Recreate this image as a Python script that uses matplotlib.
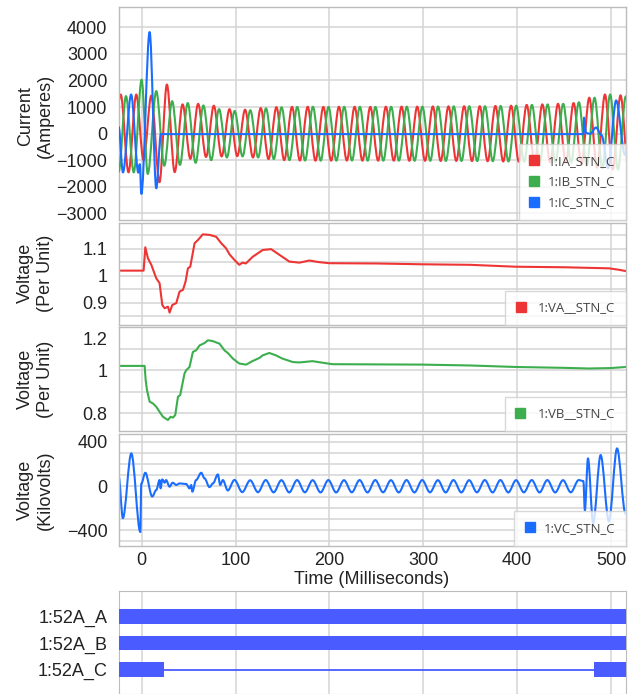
import numpy as np
import matplotlib
matplotlib.use('Agg')
import matplotlib.pyplot as plt
from matplotlib.path import Path
from matplotlib.patches import PathPatch
from matplotlib.lines import Line2D
from matplotlib.transforms import ScaledTranslation

plt.rcParams['font.family'] = ['Liberation Sans', 'DejaVu Sans']
plt.rcParams['axes.unicode_minus'] = True

# ---------------- data ----------------
# Currents: extrema (ms, A)
IA_t = [-24.5, -22.3, -14.0, -5.7, 2.0, 10.3, 19.0, 26.9, 35.2, 43.6, 51.9, 60.2, 68.6, 76.9,
        85.2, 93.6, 101.9, 110.2, 118.6, 126.9, 135.2, 143.6, 151.9, 160.2, 168.6, 176.9,
        185.2, 193.6, 201.9, 210.2, 218.6, 226.9, 235.2, 243.6, 251.9, 260.2, 268.6, 276.9,
        285.2, 293.6, 301.9, 310.2, 318.6, 326.9, 335.2, 343.6, 351.9, 360.2, 368.6, 376.9,
        385.2, 393.6, 401.9, 410.2, 418.6, 426.9, 435.2, 443.6, 451.9, 460.2, 468.6, 476.9,
        485.2, 493.6, 501.9, 510.2, 518.6]
IA_v = [1250, 1470, -1460, 1470, -1000, 1430, -1830, 1845, -1450, 1100, -950, 1120, -880, 1050,
        -860, 920, -850, 900, -900, 960, -960, 995, -1000, 1005, -1015, 1010,
        -1020, 1005, -1020, 1010, -1015, 1010, -1020, 1005, -1020, 1010, -1020, 1015,
        -1025, 1015, -1025, 1020, -1030, 1025, -1030, 1030, -1035, 1030, -1040, 1040,
        -1050, 1050, -1060, 1080, -1070, 1100, -1080, 1120, -1090, 1150, -1150, 1350,
        -1280, 1470, -1350, 1440, -1350]

IB_t = [-24.5, -16.7, -8.4, 0.0, 6.5, 15.6, 24.1, 32.5, 40.8, 49.1, 57.5, 65.8, 74.1, 82.5,
        90.8, 99.1, 107.5, 115.8, 124.1, 132.5, 140.8, 149.1, 157.5, 165.8, 174.1, 182.5,
        190.8, 199.1, 207.5, 215.8, 224.1, 232.5, 240.8, 249.1, 257.5, 265.8, 274.1, 282.5,
        290.8, 299.1, 307.5, 315.8, 324.1, 332.5, 340.8, 349.1, 357.5, 365.8, 374.1, 382.5,
        390.8, 399.1, 407.5, 415.8, 424.1, 432.5, 440.8, 449.1, 457.5, 465.8, 474.1, 482.5,
        490.8, 499.1, 507.5, 515.8]
IB_v = [-1440, 1410, -1460, 2030, -1520, 1600, -1210, 1220, -1180, 1150, -1100, 1060, -1000, 920,
        -900, 850, -860, 880, -900, 950, -960, 990, -1000, 1005, -1015, 1010,
        -1020, 1005, -1020, 1010, -1015, 1010, -1020, 1005, -1020, 1010, -1020, 1015,
        -1025, 1015, -1025, 1020, -1030, 1025, -1030, 1030, -1035, 1030, -1040, 1040,
        -1050, 1050, -1060, 1080, -1070, 1100, -1080, 1120, -1090, 1180, -1200, 1350,
        -1300, 1470, -1350, 1400]

IC_t = [-24.5, -19.9, -11.2, -3.5, -2.0, -0.3, 8.5, 15.6, 20.5, 470.8, 471.3, 473.5, 478.0,
        484.0, 490.0, 497.0, 505.5, 515.0]
IC_v = [250, -1460, 1470, -1470, -1150, -2270, 3820, -2060, -20, -20, 600, 20, -10,
        230, -60, -1300, 1250, -800]

# Per-unit voltages (ms, pu)
VA_t = [-24.5, 2.1, 3.9, 6.7, 10.3, 15.6, 19.1, 22.0, 24.5, 28.0, 29.8, 32.6, 36.9, 40.4, 44.0,
        46.8, 49.3, 51.8, 56.4, 60.0, 65.2, 72.3, 79.4, 84.8, 90.0, 93.6, 98.9, 104.0, 107.5,
        111.0, 118.4, 129.0, 138.0, 146.8, 157.4, 168.0, 178.7, 189.0, 200.0, 250.0, 299.0,
        350.0, 398.6, 450.0, 498.0, 508.0, 515.5]
VA_v = [1.0185, 1.0185, 1.105, 1.064, 1.040, 0.990, 0.972, 0.891, 0.879, 0.885, 0.863, 0.891,
        0.898, 0.941, 0.947, 0.978, 1.027, 1.033, 1.120, 1.132, 1.153, 1.151, 1.144, 1.120,
        1.101, 1.079, 1.058, 1.040, 1.048, 1.045, 1.070, 1.095, 1.098, 1.077, 1.052, 1.048,
        1.056, 1.050, 1.046, 1.045, 1.042, 1.040, 1.033, 1.031, 1.027, 1.022, 1.017]

VB_t = [-24.5, 3.2, 4.3, 5.7, 8.5, 12.0, 15.6, 19.1, 22.7, 28.0, 30.9, 33.3, 35.8, 38.7, 41.1,
        45.7, 47.5, 51.0, 54.6, 58.0, 61.7, 67.0, 70.6, 75.9, 83.0, 88.3, 91.8, 97.2, 104.0,
        111.3, 118.4, 125.5, 129.0, 136.0, 143.0, 150.0, 161.0, 168.0, 182.0, 203.0, 250.0,
        299.0, 350.0, 398.6, 450.0, 476.6, 500.0, 515.5]
VB_v = [1.020, 1.020, 0.954, 0.908, 0.854, 0.846, 0.830, 0.807, 0.784, 0.769, 0.784, 0.780,
        0.792, 0.877, 0.885, 0.985, 1.000, 1.015, 1.085, 1.092, 1.115, 1.126, 1.139, 1.135,
        1.123, 1.092, 1.080, 1.054, 1.031, 1.026, 1.043, 1.057, 1.069, 1.080, 1.069, 1.054,
        1.038, 1.036, 1.042, 1.028, 1.027, 1.026, 1.022, 1.015, 1.011, 1.008, 1.010, 1.015]

# Phase C voltage: extrema (ms, kV)
VC_t = [-24.5, -20.0, -11.0, -1.4, -0.4, 3.9, 11.3, 15.6, 19.1, 20.2, 22.0, 24.5, 26.0, 29.8,
        33.0, 37.0, 40.4, 47.5, 51.0, 52.8, 54.0, 58.0, 63.5, 67.0, 72.3, 76.0, 81.2, 83.7,
        86.5, 91.8, 98.9, 107.2, 115.6, 123.9, 132.2, 140.6, 148.9, 157.2, 165.6, 173.9,
        182.2, 190.6, 198.9, 207.2, 215.6, 223.9, 232.2, 240.6, 248.9, 257.2, 265.6, 273.9,
        282.2, 290.6, 298.9, 307.2, 315.6, 323.9, 332.2, 340.6, 348.9, 357.2, 365.6, 373.9,
        382.2, 390.6, 398.9, 407.2, 415.6, 423.9, 432.2, 440.6, 448.9, 457.2, 465.6, 470.6,
        472.2, 475.5, 481.0, 489.0, 497.8, 506.5, 515.5]
VC_v = [90, -290, 295, -415, 20, 120, -95, -36, 54, -21, 60, 30, 54, -6,
        30, 10, 24, 18, -21, 9, -51, 54, 120, 69, -10, 24, 105, 10,
        54, -40, 55, -55, 52, -56, 54, -57, 53, -58, 54, -57,
        53, -58, 54, -58, 53, -57, 54, -58, 54, -57, 53, -58,
        54, -58, 54, -57, 53, -58, 54, -58, 53, -57, 54, -58,
        54, -58, 53, -57, 54, -58, 54, -58, 53, -57, 54, 45,
        -220, 250, -335, 280, -320, 340, -250]

# Digital channels: state change times (ms), starting in the "on" state
DIG_NAMES = ['1:52A_A', '1:52A_B', '1:52A_C']
DIG_EDGES = [[-24.5, 516.0], [-24.5, 516.0], [-24.5, 23.7, 482.0, 516.0]]

CUR_LABELS = ['1:IA_STN_C', '1:IB_STN_C', '1:IC_STN_C']
VA_LABEL, VB_LABEL, VC_LABEL = '1:VA__STN_C', '1:VB__STN_C', '1:VC_STN_C'

I_TICKS = [-3000, -2000, -1000, 0, 1000, 2000, 3000, 4000]
VA_TICKS, VA_TICKLABELS = [0.9, 1.0, 1.1], ['0.9', '1', '1.1']
VB_TICKS, VB_TICKLABELS = [0.8, 1.0, 1.2], ['0.8', '1', '1.2']
VC_TICKS = [-400, 0, 400]
X_TICKS = [0, 100, 200, 300, 400, 500]

# ---------------- styling ----------------
RED, GREEN, BLUE, DIG = '#EE3535', '#3DAE4E', '#1A6DFF', '#4A5BFF'
GRID = '#d4d4d4'
W, H = 632, 694
fig = plt.figure(figsize=(W / 100, H / 100), dpi=100)
XLIM = (-23.8, 515.7)


def axes_px(top, bottom, left=119.3, right=625.7):
    return fig.add_axes([left / W, 1 - bottom / H, (right - left) / W, (bottom - top) / H])


def style(ax, ylim, major, minor=None, labels=None):
    ax.set_xlim(*XLIM)
    ax.set_ylim(*ylim)
    ax.set_xticks(X_TICKS)
    ax.set_yticks(major)
    if labels is not None:
        ax.set_yticklabels(labels)
    if minor is not None:
        ax.set_yticks(minor, minor=True)
        ax.yaxis.grid(True, which='minor', color=GRID, lw=1.1)
    ax.grid(True, which='major', color=GRID, lw=1.1)
    ax.tick_params(which='both', length=0, labelsize=13, pad=8.5, colors='#222')
    ax.tick_params(axis='x', labelbottom=False)
    for s in ax.spines.values():
        s.set_color('#bcbcbc')
        s.set_linewidth(1.0)
    ax.set_axisbelow(True)


def curve(ax, ts, vs, color, lw=1.5, z=2):
    verts = [(ts[0], vs[0])]
    codes = [Path.MOVETO]
    for i in range(1, len(ts)):
        d = (ts[i] - ts[i - 1]) / 3.0
        verts += [(ts[i - 1] + d, vs[i - 1]), (ts[i] - d, vs[i]), (ts[i], vs[i])]
        codes += [Path.CURVE4] * 3
    ax.add_patch(PathPatch(Path(verts, codes), fill=False, edgecolor=color, lw=lw,
                           zorder=z, joinstyle='round', capstyle='round'))


def legend(ax, labels, colors, textpad=0.6):
    handles = [Line2D([], [], marker='s', ls='none', color=c, markersize=7) for c in colors]
    lg = ax.legend(handles, labels, loc='lower right', bbox_to_anchor=(1, 0),
                   borderaxespad=0, fancybox=False, edgecolor='#cfcfcf', framealpha=0.8,
                   prop={'family': 'Open Sans', 'size': 9.5}, handlelength=0.8,
                   handletextpad=textpad, borderpad=0.8, labelspacing=0.6)
    for t in lg.get_texts():
        t.set_color('#444444')
    lg.get_frame().set_linewidth(1.0)
    lg.set_zorder(10)


# Panel 1: currents
ax1 = axes_px(6.7, 220)
style(ax1, (-3252, 4775), I_TICKS)
curve(ax1, IA_t, IA_v, RED, z=2)
curve(ax1, IB_t, IB_v, GREEN, z=3)
curve(ax1, IC_t, IC_v, BLUE, z=4)
legend(ax1, CUR_LABELS, [RED, GREEN, BLUE])

# Panel 2: VA
ax2 = axes_px(223, 325)
style(ax2, (0.817, 1.195), VA_TICKS, [0.85, 0.95, 1.05, 1.15], VA_TICKLABELS)
ax2.plot(VA_t, VA_v, color=RED, lw=1.5)
legend(ax2, [VA_LABEL], [RED], textpad=0.9)

# Panel 3: VB
ax3 = axes_px(327, 431)
style(ax3, (0.718, 1.2005), VB_TICKS, [0.9, 1.1], VB_TICKLABELS)
ax3.plot(VB_t, VB_v, color=GREEN, lw=1.5)
top_lbl = ax3.get_yticklabels()[-1]
top_lbl.set_transform(top_lbl.get_transform() +
                      ScaledTranslation(0, -11 / 100, fig.dpi_scale_trans))
legend(ax3, [VB_LABEL], [GREEN], textpad=0.9)

# Panel 4: VC
ax4 = axes_px(434, 545.5)
style(ax4, (-537, 470), VC_TICKS, [-500, -300, -200, -100, 100, 200, 300])
curve(ax4, VC_t, VC_v, BLUE)
ax4.tick_params(axis='x', labelbottom=True, pad=5)
legend(ax4, [VC_LABEL], [BLUE])

# Panel 5: digital channels
ax5 = axes_px(591, 694)
ax5.set_xlim(*XLIM)
ax5.set_ylim(0.083, 3.97)
ax5.set_xticks(X_TICKS)
ax5.xaxis.grid(True, color=GRID, lw=1.1)
ax5.set_axisbelow(True)
rows = [3, 2, 1]
ax5.set_yticks(rows)
ax5.set_yticklabels(DIG_NAMES)
ax5.tick_params(length=0, labelsize=13, pad=8.5, colors='#222', labelbottom=False)
for s in ax5.spines.values():
    s.set_color('#bcbcbc')
for r, edges in zip(rows, DIG_EDGES):
    ax5.hlines(r, edges[0], edges[-1], color=DIG, lw=1.3, zorder=2)
    on = [(edges[i], edges[i + 1] - edges[i]) for i in range(0, len(edges) - 1, 2)]
    ax5.broken_barh(on, (r - 0.275, 0.55), facecolor=DIG, edgecolor='none', zorder=3)

# Axis titles
ylabels = [('Current\n(Amperes)', 116), ('Voltage\n(Per Unit)', 273),
           ('Voltage\n(Per Unit)', 379), ('Voltage\n(Kilovolts)', 490)]
for txt, yc in ylabels:
    fig.text(35.5 / W, 1 - yc / H, txt, rotation=90, ha='center', va='center',
             fontsize=13, linespacing=1.25, multialignment='center', color='#222')
fig.text(372 / W, 1 - 579 / H, 'Time (Milliseconds)', ha='center', va='center',
         fontsize=13, color='#222')

fig.savefig('out.png', dpi=100)
